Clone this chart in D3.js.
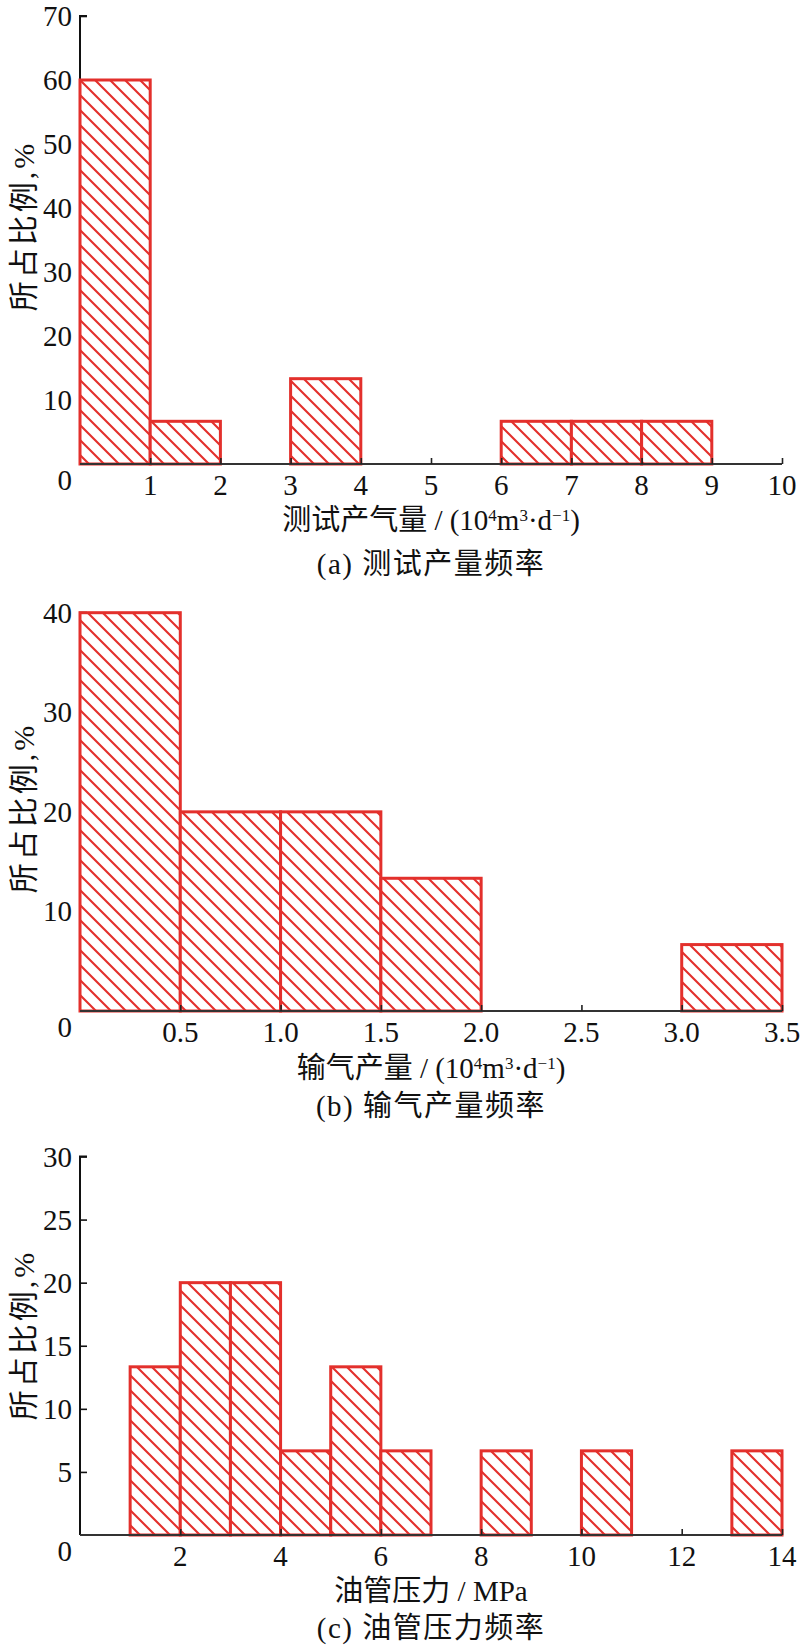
<!DOCTYPE html>
<html>
<head>
<meta charset="utf-8">
<script src="https://cdn.jsdelivr.net/npm/d3@7"></script>
<style>
  html, body { margin: 0; padding: 0; background: #fff; }
  svg { display: block; }
  text { font-family: "Liberation Serif", "Noto Sans CJK SC", serif; fill: #111; }
</style>
</head>
<body>
<svg id="chart" width="800" height="1647"></svg>
<script>
// ---------- data ----------
const yTitle = "所占比例,%";

// Panel (a) 测试产量频率
const binLoA = [0, 1, 3, 6, 7, 8];
const binHiA = [1, 2, 4, 7, 8, 9];
const valA   = [60, 6.67, 13.33, 6.67, 6.67, 6.67];
const xTicksA = [1, 2, 3, 4, 5, 6, 7, 8, 9, 10];
const yTicksA = [10, 20, 30, 40, 50, 60, 70];
const captionA = "(a) 测试产量频率";

// Panel (b) 输气产量频率
const binLoB = [0, 0.5, 1.0, 1.5, 3.0];
const binHiB = [0.5, 1.0, 1.5, 2.0, 3.5];
const valB   = [40, 20, 20, 13.33, 6.67];
const xTicksB = [0.5, 1.0, 1.5, 2.0, 2.5, 3.0, 3.5];
const yTicksB = [10, 20, 30, 40];
const captionB = "(b) 输气产量频率";

// Panel (c) 油管压力频率
const binLoC = [1, 2, 3, 4, 5, 6, 8, 10, 13];
const binHiC = [2, 3, 4, 5, 6, 7, 9, 11, 14];
const valC   = [13.33, 20, 20, 6.67, 13.33, 6.67, 6.67, 6.67, 6.67];
const xTicksC = [2, 4, 6, 8, 10, 12, 14];
const yTicksC = [5, 10, 15, 20, 25, 30];
const captionC = "(c) 油管压力频率";

// ---------- drawing ----------
const svg = d3.select("#chart");
const RED = "#e3302c";

const defs = svg.append("defs");
const pat = defs.append("pattern")
  .attr("id", "hatch")
  .attr("patternUnits", "userSpaceOnUse")
  .attr("width", 15).attr("height", 15);
pat.append("rect").attr("width", 15).attr("height", 15).attr("fill", "#fff");
pat.append("path")
  .attr("d", "M-4,-4 L19,19 M-4,11 L4,19 M11,-4 L19,4")
  .attr("stroke", RED).attr("stroke-width", 2.1);

function titleTspans(sel, parts) {
  parts.forEach(p => {
    const t = sel.append("tspan").text(p.t);
    if (p.sup) t.attr("baseline-shift", "super").attr("font-size", "17px");
  });
}

function panel(cfg) {
  const x = d3.scaleLinear().domain(cfg.xDomain).range([80, 782]);
  const y = d3.scaleLinear().domain(cfg.yDomain).range([cfg.y0, cfg.yTop]);
  const g = svg.append("g");

  // y axis
  const yAxis = d3.axisRight(y).tickValues(cfg.yTicks).tickSize(7).tickFormat("");
  const ya = g.append("g").attr("transform", "translate(80,0)").call(yAxis);
  ya.select(".domain").attr("d", `M0,${cfg.y0}V${cfg.yTop}H7`).attr("stroke", "#111").attr("stroke-width", 2);
  ya.selectAll(".tick line").attr("stroke", "#111").attr("stroke-width", 1.6);
  g.selectAll(".ylab").data(cfg.yTicks).join("text")
    .attr("x", 72).attr("y", d => y(d) + 10)
    .attr("text-anchor", "end").attr("font-size", "29px")
    .text(d => d);

  // bars
  const bars = cfg.lo.map((d, i) => ({ lo: d, hi: cfg.hi[i], v: cfg.val[i] }));
  g.selectAll(".bar").data(bars).join("rect")
    .attr("x", d => x(d.lo)).attr("width", d => x(d.hi) - x(d.lo))
    .attr("y", d => y(d.v)).attr("height", d => y(0) - y(d.v))
    .attr("fill", "url(#hatch)").attr("stroke", RED).attr("stroke-width", 3);

  // x axis
  const xAxis = d3.axisTop(x).tickValues(cfg.xTicks).tickSize(6).tickFormat("");
  const xa = g.append("g").attr("transform", `translate(0,${cfg.y0})`).call(xAxis);
  xa.select(".domain").attr("d", "M80,0H782").attr("stroke", "#333").attr("stroke-width", 2.2);
  xa.selectAll(".tick line").attr("stroke", "#222").attr("stroke-width", 1.6);
  g.selectAll(".xlab").data(cfg.xTicks).join("text")
    .attr("x", d => x(d)).attr("y", cfg.y0 + 31)
    .attr("text-anchor", "middle").attr("font-size", "29px")
    .text(cfg.xFmt);

  // origin zero
  g.append("text").attr("x", 72).attr("y", cfg.y0 + 26)
    .attr("text-anchor", "end").attr("font-size", "29px").text("0");

  // y title
  g.append("text")
    .attr("transform", `translate(34,${cfg.yTitleY}) rotate(-90)`)
    .attr("text-anchor", "middle").attr("font-size", "30px")
    .attr("letter-spacing", "3px")
    .text(yTitle);

  // x title
  const xt = g.append("text").attr("x", 431).attr("y", cfg.xTitleY)
    .attr("text-anchor", "middle").attr("font-size", "29px");
  titleTspans(xt, cfg.xTitle);

  // caption
  g.append("text").attr("x", 431).attr("y", cfg.capY)
    .attr("text-anchor", "middle").attr("font-size", "29px")
    .attr("letter-spacing", "1.5px")
    .text(cfg.caption);
}

panel({
  xDomain: [0, 10], yDomain: [0, 70], y0: 464, yTop: 16,
  lo: binLoA, hi: binHiA, val: valA, xTicks: xTicksA, yTicks: yTicksA,
  xFmt: d => d3.format("d")(d), yTitleY: 226,
  xTitle: [{t: "测试产气量 / (10"}, {t: "4", sup: true}, {t: "m"}, {t: "3", sup: true}, {t: "·d"}, {t: "−1", sup: true}, {t: ")"}],
  xTitleY: 530, caption: captionA, capY: 574
});

panel({
  xDomain: [0, 3.5], yDomain: [0, 40], y0: 1011, yTop: 612.7,
  lo: binLoB, hi: binHiB, val: valB, xTicks: xTicksB, yTicks: yTicksB,
  xFmt: d => d3.format(".1f")(d), yTitleY: 808,
  xTitle: [{t: "输气产量 / (10"}, {t: "4", sup: true}, {t: "m"}, {t: "3", sup: true}, {t: "·d"}, {t: "−1", sup: true}, {t: ")"}],
  xTitleY: 1078, caption: captionB, capY: 1116
});

panel({
  xDomain: [0, 14], yDomain: [0, 30], y0: 1535, yTop: 1156.5,
  lo: binLoC, hi: binHiC, val: valC, xTicks: xTicksC, yTicks: yTicksC,
  xFmt: d => d3.format("d")(d), yTitleY: 1335,
  xTitle: [{t: "油管压力 / MPa"}],
  xTitleY: 1601, caption: captionC, capY: 1638
});
</script>
</body>
</html>
